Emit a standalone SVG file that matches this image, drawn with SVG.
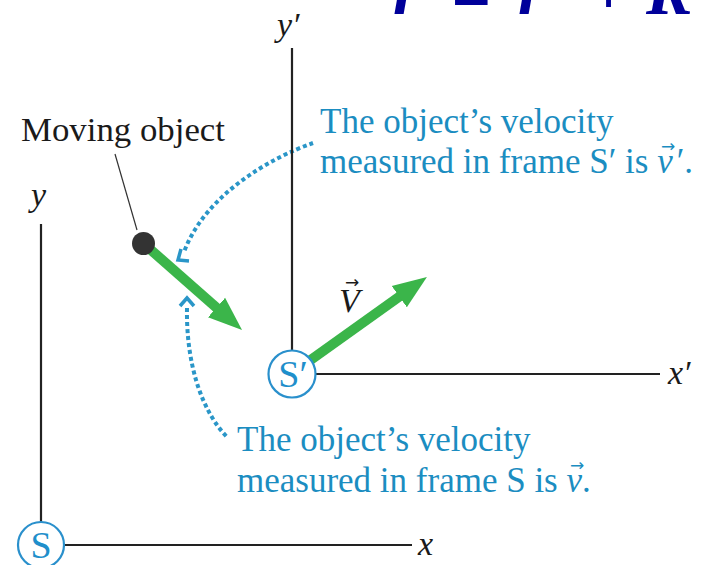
<svg xmlns="http://www.w3.org/2000/svg" width="709" height="565" viewBox="0 0 709 565">
<style>
.ax{stroke:#222;stroke-width:2.2;fill:none}
.lbl{font-family:"Liberation Serif",serif;font-size:34px;fill:#1a1a1a}
.it{font-style:italic}
.blue{font-family:"Liberation Serif",serif;font-size:35px;fill:#1b8dc1}
.frame{fill:#fff;stroke:#2a90cc;stroke-width:2.2}
.ftxt{font-family:"Liberation Serif",serif;font-size:38px;fill:#1f8fcb;text-anchor:middle}
.green{stroke:#3bb54a;stroke-width:10;fill:none}
.dots{stroke:#2a96c8;stroke-width:4;fill:none;stroke-dasharray:4 3}
.chev{stroke:#2a96c8;stroke-width:3.5;fill:none;stroke-linejoin:miter}
.eq{font-family:"Liberation Serif",serif;font-size:70px;fill:#00009a;font-style:italic;font-weight:bold}
.arr{font-family:"DejaVu Sans",sans-serif;font-size:17px}
</style>
<defs>
<marker id="gh" markerUnits="userSpaceOnUse" markerWidth="40" markerHeight="30" viewBox="0 -15 40 30" refX="2" refY="0" orient="auto">
<path d="M0,-13 L34,0 L0,13 z" fill="#3bb54a"/>
</marker>
</defs>
<rect width="709" height="565" fill="#fff"/>
<g id="equation">
<text class="eq" x="393" y="14">r′</text>
<text class="eq" x="451" y="19" font-style="normal" font-weight="normal">=</text>
<text class="eq" x="518" y="14">r</text>
<text class="eq" x="588" y="14" font-style="normal" font-weight="normal">+</text>
<text class="eq" x="646" y="14">R</text>
</g>
<g id="frameS">
<line class="ax" x1="41" y1="224" x2="41" y2="522"/>
<line class="ax" x1="64" y1="545" x2="412" y2="545"/>
<text class="lbl it" x="31" y="206">y</text>
<text class="lbl it" x="418" y="555">x</text>
<circle class="frame" cx="41" cy="545" r="23"/>
<text class="ftxt" x="41" y="558">S</text>
</g>
<g id="connectors">
<line class="green" x1="143" y1="243" x2="218" y2="308.9" marker-end="url(#gh)"/>
<line class="green" x1="305" y1="364" x2="400.9" y2="295.5" marker-end="url(#gh)"/>
<line x1="115" y1="154" x2="137" y2="230" stroke="#333" stroke-width="1.2"/>
<path class="dots" d="M313,143 C270,158 205,195 184,252"/>
<polyline class="chev" points="181,249 178,260 189,261"/>
<path class="dots" d="M187,308 C186,360 200,410 228,438"/>
<polyline class="chev" points="180,306 187,298 194,306"/>
</g>
<g id="frameSprime">
<line class="ax" x1="292" y1="48" x2="292" y2="351"/>
<line class="ax" x1="315" y1="374" x2="660" y2="374"/>
<text class="lbl it" x="277" y="36">y′</text>
<text class="lbl it" x="668" y="384">x′</text>
<circle class="frame" cx="292" cy="374" r="23.5"/>
<text class="ftxt" x="293" y="387">S′</text>
</g>
<g id="object">
<circle cx="143.5" cy="243.5" r="11.5" fill="#333"/>
<text class="lbl" x="21" y="141" font-size="32" textLength="204" lengthAdjust="spacingAndGlyphs">Moving object</text>
</g>
<g id="Vlabel">
<text class="lbl it" x="339" y="312">V</text>
<text class="arr" x="345" y="288" fill="#1a1a1a">→</text>
</g>
<g id="noteSprime">
<text class="blue" x="320" y="133">The object’s velocity</text>
<text class="blue" x="320" y="173">measured in frame S′ is <tspan class="it">v</tspan><tspan dx="4">′.</tspan></text>
<text class="arr" x="661" y="152" fill="#1b8dc1">→</text>
</g>
<g id="noteS">
<text class="blue" x="237" y="451">The object’s velocity</text>
<text class="blue" x="237" y="492">measured in frame S is <tspan class="it">v</tspan>.</text>
<text class="arr" x="570" y="471" fill="#1b8dc1">→</text>
</g>
</svg>
